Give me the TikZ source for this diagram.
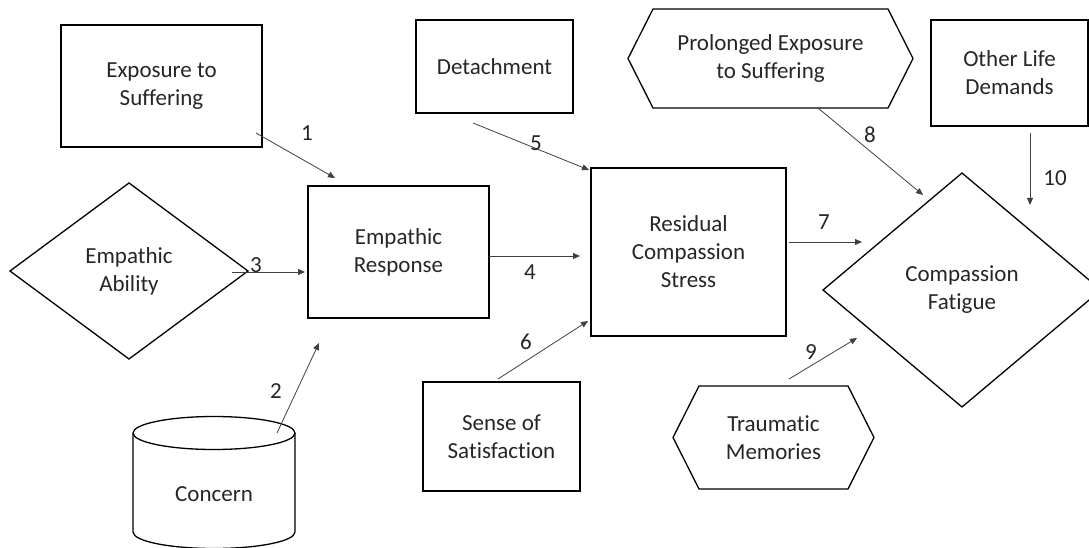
\documentclass[tikz,border=0pt]{standalone}
\usepackage{fontspec}
\setmainfont{Carlito}[Ligatures=NoCommon]
\usetikzlibrary{arrows.meta,shapes.geometric,calc}
\definecolor{txt}{HTML}{262626}
\definecolor{arrc}{HTML}{404040}
\begin{document}
\begin{tikzpicture}[x=1pt,y=-1pt,
  lab/.style={font=\fontsize{23}{28}\selectfont, text=txt, align=center},
  box/.style={lab, draw=black, line width=1.3pt, inner sep=0pt, outer sep=0pt},
  dia/.style={box, diamond},
  plain/.style={lab, inner sep=0pt},
  arr/.style={draw=arrc, line width=0.8pt, -{Triangle[length=7pt,width=6pt]}},
  num/.style={lab, inner sep=0pt}]
\useasboundingbox (0,0) rectangle (1089,548);
\clip (0,0) rectangle (1089,548);

% rectangles
\node[box, minimum width=201pt, minimum height=122pt] (exp) at (161.5,86) {Exposure to\\Suffering};
\node[box, minimum width=181pt, minimum height=132pt] (er) at (398.5,252) {Empathic\\Response};
\node[box, minimum width=157pt, minimum height=93pt] (det) at (494.5,66.5) {Detachment};
\node[box, minimum width=195pt, minimum height=168pt] (rcs) at (688.5,252) {Residual\\Compassion\\Stress};
\node[box, minimum width=157pt, minimum height=109pt] (sos) at (501.5,436.5) {Sense of\\Satisfaction};
\node[box, minimum width=157pt, minimum height=106pt] (old) at (1009.5,73) {Other Life\\Demands};

% diamonds
\node[dia, minimum width=238pt, minimum height=176pt] (ea) at (129,271) {Empathic\\Ability};
\node[dia, minimum width=278pt, minimum height=234pt] (cf) at (962,290) {Compassion\\Fatigue};

% hexagons
\node[plain] (pe) at (770.5,58.5) {Prolonged Exposure\\to Suffering};
\draw[line width=1.3pt] (628,58.5) -- (653,9) -- (888,9) -- (913,58.5) -- (888,108) -- (653,108) -- cycle;
\node[plain] (tm) at (773.5,437.5) {Traumatic\\Memories};
\draw[line width=1.3pt] (673,437.5) -- (699,386) -- (848,386) -- (874,437.5) -- (848,489) -- (699,489) -- cycle;

% cylinder
\node[plain] (con) at (214,494) {Concern};
\draw[line width=1.3pt] (214,433) ellipse [x radius=81pt, y radius=16.5pt];
\draw[line width=1.3pt] (133,433) -- (133,532) arc[start angle=180, end angle=360, x radius=81pt, y radius=16.5pt] -- (295,433);

% arrow endpoints
\coordinate (a1s) at (256,133); \coordinate (a1e) at (335,178);
\coordinate (a2s) at (277,433); \coordinate (a2e) at (319,343);
\coordinate (a3s) at (232,272); \coordinate (a3e) at (305,272);
\coordinate (a4s) at (489,256); \coordinate (a4e) at (580,256);
\coordinate (a5s) at (473,123); \coordinate (a5e) at (589,170);
\coordinate (a6s) at (498,379); \coordinate (a6e) at (588,321);
\coordinate (a7s) at (789,242); \coordinate (a7e) at (862,242);
\coordinate (a8s) at (818,108); \coordinate (a8e) at (923,195);
\coordinate (a9s) at (789,379); \coordinate (a9e) at (857,338);
\coordinate (a10s) at (1030,133); \coordinate (a10e) at (1030,205);

\foreach \i in {1,...,10} {\draw[arr] (a\i s) -- (a\i e);}

% labels
\node[num] (n1) at (307,133) {1};
\node[num] (n2) at (276,391) {2};
\node[num] (n3) at (256,265) {3};
\node[num] (n4) at (530,272) {4};
\node[num] (n5) at (536,143) {5};
\node[num] (n6) at (526,342) {6};
\node[num] (n7) at (824,222) {7};
\node[num] (n8) at (870,135) {8};
\node[num] (n9) at (811,352) {9};
\node[num] (n10) at (1055,178) {10};
\end{tikzpicture}
\end{document}
